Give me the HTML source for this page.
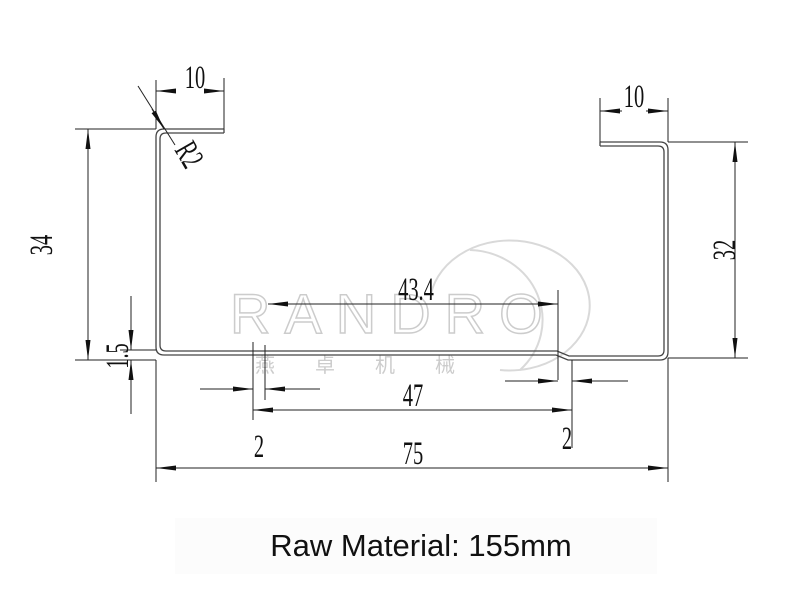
<!DOCTYPE html>
<html><head><style>
body{margin:0;background:#fff;width:800px;height:600px;overflow:hidden}
svg{display:block}
.t{font-family:"Liberation Serif",serif;font-size:33px;fill:#111}
</style></head><body>
<svg width="800" height="600" viewBox="0 0 800 600">
<defs>
<marker id="a" viewBox="0 0 20 6" refX="20" refY="3" markerWidth="20" markerHeight="6" markerUnits="userSpaceOnUse" orient="auto-start-reverse"><path d="M0,0.5 L20,3 L0,5.5 Z" fill="#111"/></marker>
</defs>
<rect x="175" y="518" width="482" height="56" fill="#fcfcfc"/>
<g fill="none" stroke="#d9d9d9" stroke-width="2">
<path d="M430,300 A80,65 0 1 1 500,370"/>
<path d="M470,250 A75,70 0 0 1 520,370"/>
</g>
<text x="230" y="333" font-family="Liberation Sans,sans-serif" font-size="56" fill="none" stroke="#ccc" stroke-width="1.5" letter-spacing="14">RANDRO</text>
<text x="255" y="372" font-family="Liberation Sans,'Noto Sans CJK SC',sans-serif" font-size="20" fill="#ccc" letter-spacing="40">燕卓机械</text>
<g fill="none" stroke="#444" stroke-width="1.3">
<path d="M224,129 L164,129 Q156,129 156,137 L156,347 Q156,355 164,355 L556,355 L568,360 L660,360 Q668,360 668,352 L668,150 Q668,142 660,142 L600,142"/>
<path d="M224,133 L166,133 Q160,133 160,139 L160,345 Q160,351 166,351 L557,351 L569,356 L658,356 Q664,356 664,350 L664,152 Q664,146 658,146 L600,146"/>
<path d="M224,129 L224,133 M600,142 L600,146"/>
</g>
<g stroke="#222" stroke-width="1" fill="none">
<line x1="156" y1="80" x2="156" y2="129"/><line x1="224" y1="78" x2="224" y2="129"/>
<line x1="176" y1="91" x2="156" y2="91" marker-end="url(#a)"/><line x1="204" y1="91" x2="224" y2="91" marker-end="url(#a)"/>
<line x1="138" y1="86" x2="175" y2="145"/><line x1="152" y1="109" x2="164" y2="129" marker-end="url(#a)"/>
<line x1="75" y1="129" x2="156" y2="129"/><line x1="75" y1="360" x2="156" y2="360"/>
<line x1="88" y1="240" x2="88" y2="129" marker-end="url(#a)"/><line x1="88" y1="240" x2="88" y2="360" marker-end="url(#a)"/>
<line x1="120" y1="350" x2="156" y2="350"/>
<line x1="131" y1="296" x2="131" y2="350" marker-end="url(#a)"/><line x1="131" y1="414" x2="131" y2="360" marker-end="url(#a)"/>
<line x1="410" y1="304" x2="268" y2="304" marker-end="url(#a)"/><line x1="410" y1="304" x2="558" y2="304" marker-end="url(#a)"/>
<line x1="558" y1="290" x2="558" y2="380"/>
<line x1="253" y1="342" x2="253" y2="420"/><line x1="265" y1="345" x2="265" y2="400"/>
<line x1="200" y1="389" x2="253" y2="389" marker-end="url(#a)"/><line x1="320" y1="389" x2="265" y2="389" marker-end="url(#a)"/>
<line x1="572" y1="360" x2="572" y2="448"/>
<line x1="505" y1="381" x2="558" y2="381" marker-end="url(#a)"/><line x1="628" y1="381" x2="572" y2="381" marker-end="url(#a)"/>
<line x1="413" y1="410" x2="253" y2="410" marker-end="url(#a)"/><line x1="413" y1="410" x2="572" y2="410" marker-end="url(#a)"/>
<line x1="156" y1="360" x2="156" y2="482"/><line x1="668" y1="358" x2="668" y2="482"/>
<line x1="413" y1="468" x2="156" y2="468" marker-end="url(#a)"/><line x1="413" y1="468" x2="668" y2="468" marker-end="url(#a)"/>
<line x1="668" y1="142" x2="748" y2="142"/><line x1="668" y1="358" x2="748" y2="358"/>
<line x1="735" y1="250" x2="735" y2="142" marker-end="url(#a)"/><line x1="735" y1="250" x2="735" y2="358" marker-end="url(#a)"/>
<line x1="600" y1="98" x2="600" y2="142"/><line x1="668" y1="98" x2="668" y2="142"/>
<line x1="622" y1="111" x2="600" y2="111" marker-end="url(#a)"/><line x1="646" y1="111" x2="668" y2="111" marker-end="url(#a)"/>
</g>
<g class="t" text-anchor="middle">
<text transform="translate(195,88) scale(0.62,1)">10</text>
<text transform="translate(634,107) scale(0.62,1)">10</text>
<text transform="translate(416,300) scale(0.62,1)">43.4</text>
<text transform="translate(413,406) scale(0.62,1)">47</text>
<text transform="translate(413,464) scale(0.62,1)">75</text>
<text transform="translate(259,457) scale(0.62,1)">2</text>
<text transform="translate(567,449) scale(0.62,1)">2</text>
<text transform="translate(52,245) rotate(-90) scale(0.62,1)">34</text>
<text transform="translate(735,250) rotate(-90) scale(0.62,1)">32</text>
<text transform="translate(128,356) rotate(-90) scale(0.62,1)">1.5</text>
<text transform="translate(180,160) rotate(60) scale(0.62,1)">R2</text>
</g>
<text x="421" y="556" text-anchor="middle" font-family="Liberation Sans,sans-serif" font-size="31" fill="#111">Raw Material: 155mm</text>
</svg>
</body></html>
